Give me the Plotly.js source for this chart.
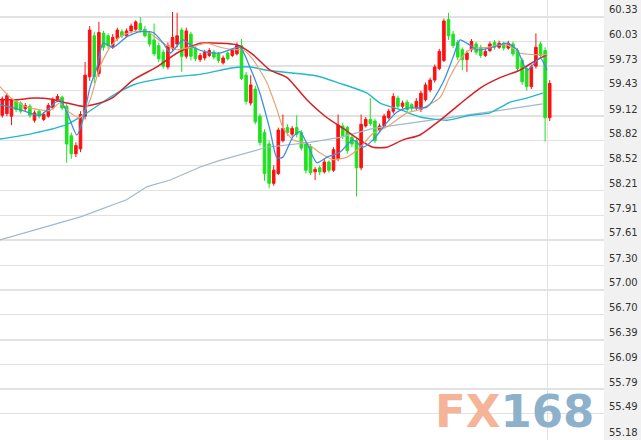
<!DOCTYPE html>
<html>
<head>
<meta charset="utf-8">
<script src="https://cdn.plot.ly/plotly-3.0.1.min.js"></script>
<style>html,body{margin:0;padding:0;background:#fff;}#chart{width:641px;height:440px;}</style>
</head>
<body>
<div id="chart"></div>
<script>
// ---- candle data (O/H/L/C), one candle per period ----
const opens = [59.13,59.15,59.12,59.30,59.28,59.21,59.24,59.07,59.18,59.08,
59.12,59.22,59.31,59.35,59.24,58.88,58.66,58.72,59.12,59.60,
60.10,59.64,60.13,60.10,59.96,60.07,60.15,60.10,60.16,60.18,
60.25,60.18,60.13,60.05,59.98,59.90,59.72,59.95,60.00,60.17,
59.85,60.12,59.95,59.81,59.83,59.86,59.90,59.88,59.77,59.89,
59.86,59.88,59.98,59.62,59.28,59.45,59.12,58.92,58.78,58.30,
58.42,58.82,58.98,58.90,58.98,58.92,58.78,58.75,58.44,58.49,
58.44,58.56,58.46,58.60,59.00,58.98,58.86,58.82,58.49,59.00,
59.08,59.06,58.95,59.00,59.10,59.18,59.34,59.24,59.29,59.26,
59.22,59.20,59.32,59.44,59.56,59.70,59.80,60.30,60.12,60.02,
59.93,59.81,59.93,60.00,59.96,59.86,59.92,60.02,59.96,60.01,
59.95,60.00,59.92,59.80,59.70,59.48,59.73,60.00,59.92,59.10];
const highs = [59.36,59.40,59.33,59.32,59.30,59.28,59.27,59.19,59.20,59.17,
59.28,59.35,59.39,59.37,59.27,58.92,58.80,59.18,59.78,60.22,
60.15,60.27,60.16,60.13,60.12,60.20,60.18,60.19,60.25,60.29,
60.33,60.22,60.16,60.25,60.02,59.93,60.02,60.39,60.38,60.20,
60.20,60.15,59.97,59.89,59.93,59.95,59.93,59.90,59.86,59.91,
59.95,60.02,60.06,59.66,59.62,59.49,59.15,58.96,58.82,58.52,
58.98,59.14,59.02,59.00,59.13,58.95,58.80,58.78,58.50,58.52,
58.60,58.58,58.74,59.14,59.04,59.00,58.89,58.85,59.14,59.11,
59.34,59.09,59.03,59.15,59.21,59.40,59.37,59.31,59.32,59.28,
59.34,59.43,59.53,59.59,59.75,59.94,60.31,60.38,60.16,60.05,
59.96,59.92,60.06,60.03,59.99,59.94,60.03,60.05,60.04,60.03,
60.04,60.03,59.95,59.83,59.73,59.75,60.13,60.03,59.96,59.56];
const lows = [59.10,59.12,59.01,59.17,59.15,59.18,59.10,59.04,59.09,59.06,
59.10,59.20,59.29,59.19,58.55,58.60,58.62,58.68,59.08,59.55,
59.52,59.60,59.92,59.94,59.94,60.04,60.07,60.08,60.13,60.16,
60.14,60.08,59.97,59.85,59.78,59.70,59.69,59.92,59.96,59.66,
59.82,59.80,59.79,59.78,59.80,59.84,59.81,59.77,59.75,59.80,
59.84,59.86,59.56,59.26,59.25,59.02,58.76,58.33,58.24,58.27,
58.40,58.80,58.88,58.87,58.86,58.70,58.42,58.40,58.34,58.40,
58.42,58.43,58.44,58.57,58.84,58.66,58.74,58.14,58.46,58.98,
59.00,58.79,58.92,58.97,59.08,59.15,59.21,59.21,59.17,59.18,
59.19,59.17,59.30,59.41,59.53,59.68,59.78,60.05,59.95,59.80,
59.68,59.66,59.90,59.87,59.83,59.84,59.90,59.93,59.94,59.92,
59.93,59.85,59.67,59.50,59.43,59.45,59.70,59.83,58.81,59.06];
const closes = [59.33,59.37,59.31,59.20,59.18,59.25,59.13,59.16,59.12,59.14,
59.25,59.32,59.36,59.22,58.78,58.66,58.76,59.14,59.62,60.17,
59.60,60.14,59.96,59.98,60.08,60.17,60.10,60.16,60.22,60.27,
60.17,60.10,60.00,59.88,59.82,59.73,59.98,60.08,60.10,59.85,
60.16,59.85,59.82,59.86,59.90,59.92,59.84,59.80,59.83,59.82,
59.93,59.98,59.58,59.30,59.50,59.05,58.80,58.42,58.30,58.46,
58.95,58.97,58.92,58.97,58.90,58.73,58.46,58.43,58.47,58.44,
58.56,58.46,58.71,59.01,58.88,58.70,58.78,58.49,59.02,59.08,
59.03,58.82,59.00,59.12,59.18,59.36,59.24,59.28,59.20,59.22,
59.30,59.40,59.50,59.56,59.72,59.91,60.28,60.10,59.98,59.84,
59.81,59.89,60.03,59.90,59.86,59.91,60.00,59.96,60.01,59.95,
60.01,59.88,59.70,59.54,59.48,59.72,59.96,59.86,59.10,59.52];

// ---- moving-average lines (period index, value) ----
const ma5Idx = [-0.5,3.8,8.2,12.5,14.1,16.2,17.5,19.1,20.6,21.9,24.1,27.1,29.9,32.8,35,36.5,39.3,41.5,44.5,47.3,51.7,53.8,56,58.2,59.7,61,63.2,64.7,66.2,68.4,70.6,73.4,76.2,78.4,80.6,83.6,85.8,88,92.3,95.8,98,99.5,101,103.2,106,109.7,111.9,114.1,116.9,118.4];
const ma5Val = [59.26,59.20,59.13,59.32,59.16,58.89,59.07,59.48,59.72,60.01,59.96,60.09,60.15,60.14,60.01,59.89,60.05,59.96,59.90,59.89,59.96,59.72,59.40,58.95,58.61,58.62,58.87,58.93,58.79,58.55,58.62,58.68,58.83,58.74,58.83,59.04,59.17,59.22,59.23,59.53,59.84,60.05,60.01,59.93,59.95,60.01,59.93,59.68,59.83,59.68];

const ma10Idx = [-0.5,1.7,5.4,10.4,12.5,14.7,16.9,19.1,21.2,23.4,25.6,28.4,31.5,35,38,40.8,44.5,47.3,50.2,52.3,54.5,57.5,59.7,61,63.2,66.2,69.1,71.9,74.9,77.8,80.6,83.6,88,90.8,95.2,97.3,99.5,101.7,105.4,109.7,112.5,115.4,118.4];
const ma10Val = [59.48,59.35,59.23,59.19,59.28,59.16,59.10,59.32,59.72,59.96,60.09,60.15,60.15,60.01,59.93,59.96,60.01,59.96,59.93,59.93,59.81,59.53,59.20,58.98,58.83,58.79,58.67,58.59,58.62,58.74,58.91,58.99,59.16,59.20,59.35,59.60,59.81,59.93,59.96,59.99,59.89,59.87,59.87];

const ma20Idx = [-0.5,3.2,6.7,10.4,14.1,17.5,20.6,24.1,28.4,33.6,38,43,47.3,51,54.5,58.2,61.9,66.2,70.6,74.1,77.1,80.6,83.6,87.1,90.8,95.2,99.5,103.8,108.2,112.5,115.4,118.4];
const ma20Val = [59.32,59.32,59.34,59.33,59.28,59.24,59.27,59.35,59.56,59.72,59.89,60.01,60.01,59.99,59.87,59.68,59.59,59.32,59.10,58.97,58.85,58.74,58.74,58.83,58.89,59.07,59.27,59.46,59.59,59.68,59.78,59.87];

const ma60Idx = [-0.5,6.7,14.1,18.4,23.4,28.4,35.8,43,50.2,53.9,57.5,68.4,73.4,79.3,82.1,86.5,90.8,96.7,101.7,106,110.4,114,117.5];
const ma60Val = [58.84,58.91,59.02,59.16,59.35,59.50,59.59,59.63,59.71,59.72,59.68,59.61,59.52,59.40,59.28,59.20,59.11,59.07,59.13,59.16,59.29,59.34,59.40];

const ma120Idx = [-0.5,17,27,31.5,36.5,43,47.3,57.5,66.9,73.4,80.6,90.8,101,108.2,117.5];
const ma120Val = [57.61,57.89,58.10,58.26,58.34,58.50,58.58,58.74,58.80,58.86,58.97,59.05,59.13,59.19,59.27];

// ---- axis tick labels ----
const tickValues = [60.33,60.03,59.73,59.43,59.12,58.82,58.52,58.21,57.91,57.61,57.30,57.00,56.70,56.39,56.09,55.79,55.49,55.18];
const tickLabels = ["60.33","60.03","59.73","59.43","59.12","58.82","58.52","58.21","57.91","57.61","57.30","57.00","56.70","56.39","56.09","55.79","55.49","55.18"];

const idx = opens.map((_, i) => i);

function maLine(xs, ys, color, width, smooth) {
  const line = {color: color, width: width};
  if (smooth) { line.shape = 'spline'; line.smoothing = smooth; }
  return {type: 'scatter', mode: 'lines', x: xs, y: ys, line: line,
    hoverinfo: 'skip', showlegend: false};
}

const traces = [
  {type: 'candlestick', x: idx, open: opens, high: highs, low: lows, close: closes,
   increasing: {line: {color: '#ff1010', width: 1}, fillcolor: '#ff1010'},
   decreasing: {line: {color: '#1ee21e', width: 1}, fillcolor: '#1ee21e'},
   whiskerwidth: 0, showlegend: false, hoverinfo: 'skip'},
  maLine(ma120Idx, ma120Val, '#a3b8c8', 1.2, 0),
  maLine(ma60Idx, ma60Val, '#22b9c9', 1.4, 0.6),
  maLine(ma20Idx, ma20Val, '#d91f26', 1.5, 0.6),
  maLine(ma10Idx, ma10Val, '#e6a474', 1.2, 0.6),
  maLine(ma5Idx, ma5Val, '#3b8fe2', 1.3, 0.6)
];

const layout = {
  width: 641, height: 440,
  margin: {l: 0, r: 37, t: 0, b: 0, pad: 0},
  paper_bgcolor: '#f1f1f1', plot_bgcolor: '#ffffff',
  showlegend: false, hovermode: false, boxgap: 0.2,
  xaxis: {range: [-0.5, 130.8], showticklabels: false, ticks: '',
    tickmode: 'array', tickvals: [118.6], showgrid: true, gridcolor: '#e2e2e2', gridwidth: 1,
    zeroline: false, showline: false, rangeslider: {visible: false}, fixedrange: true},
  yaxis: {side: 'right', range: [55.168, 60.537], tickmode: 'array',
    tickvals: tickValues, ticktext: tickLabels, ticks: '',
    ticklabelposition: 'outside top', ticklabelstandoff: 4,
    showgrid: true, gridcolor: '#e2e2e2', gridwidth: 1.3, zeroline: false, showline: false,
    tickfont: {family: 'DejaVu Sans, Verdana, sans-serif', size: 10, color: '#333333'},
    fixedrange: true},
  annotations: [{
    xref: 'paper', yref: 'paper', x: 0.851, y: 0.064, xanchor: 'center', yanchor: 'middle',
    showarrow: false,
    text: '<span style="color:#f5b398">FX</span><span style="color:#8eb1cb">168</span>',
    font: {family: 'DejaVu Sans, sans-serif', size: 45, weight: 'bold'}
  }]
};

Plotly.newPlot('chart', traces, layout, {staticPlot: true, displayModeBar: false});
</script>
</body>
</html>
